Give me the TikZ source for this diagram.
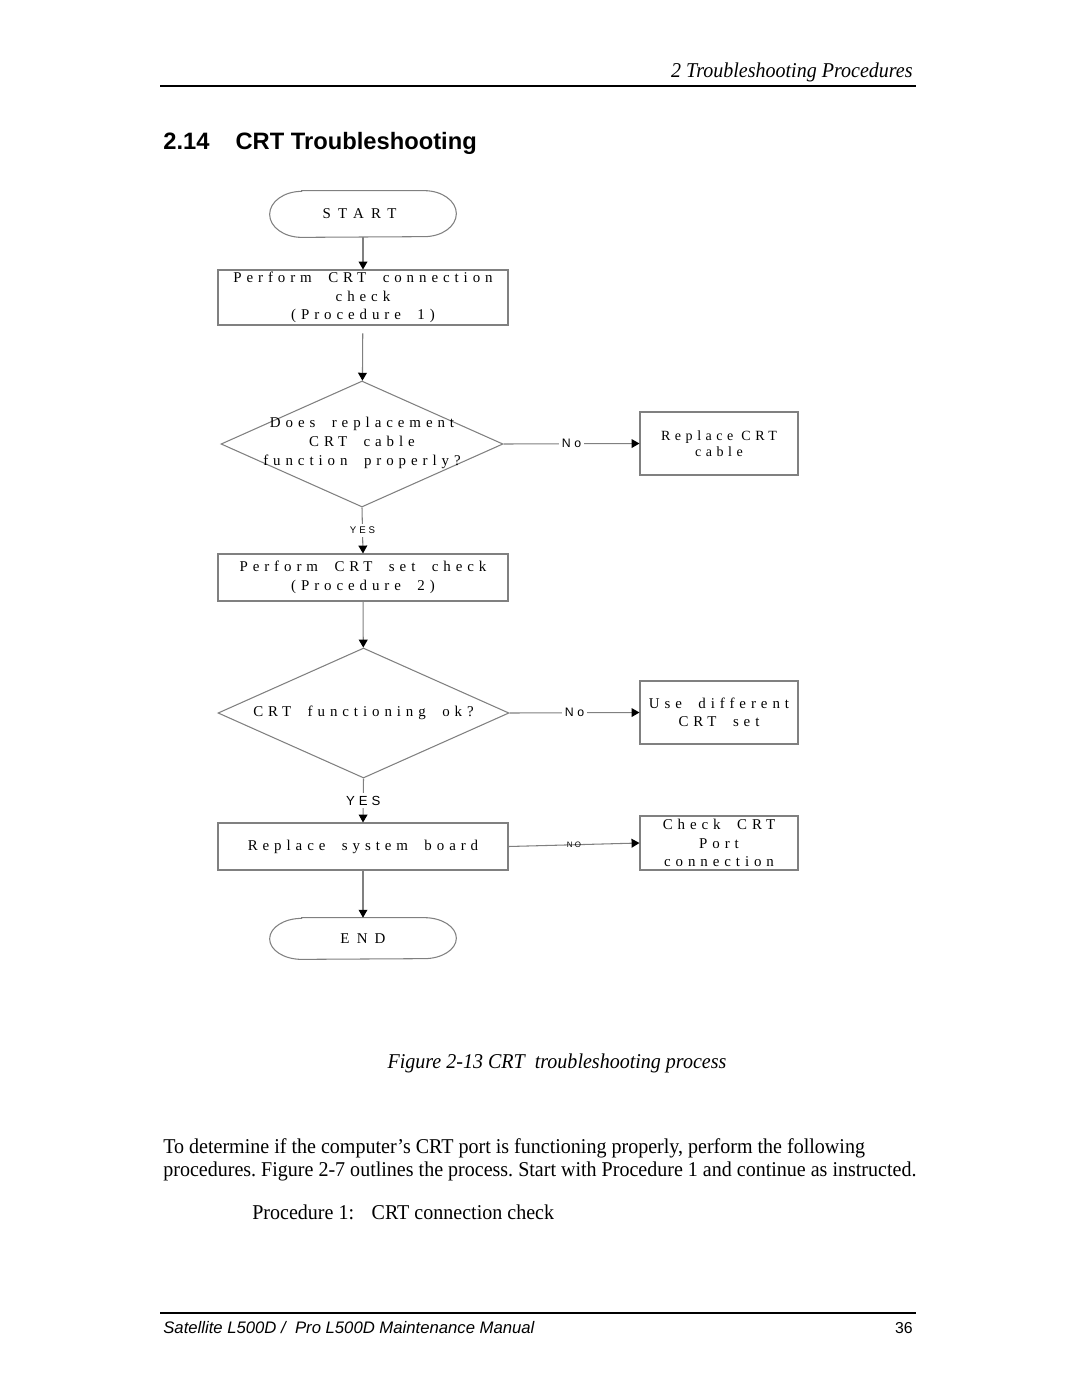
\documentclass[tikz,border=0pt]{standalone}
\usepackage{fontspec}
\setmainfont[FakeStretch=0.95]{Liberation Serif}
\setsansfont{Liberation Sans}
\newfontfamily\spc[LetterSpace=33,WordSpace=1.9]{Liberation Serif}
\newfontfamily\spcn[LetterSpace=32]{Liberation Serif}
\newfontfamily\spcw[LetterSpace=48]{Liberation Serif}
\newfontfamily\sspc[LetterSpace=30]{Liberation Sans}
\usetikzlibrary{shapes.geometric,arrows.meta}
\frenchspacing
\begin{document}
\begin{tikzpicture}[x=0.02cm,y=-0.02cm,
  sz/.style 2 args={minimum width=#1*0.02cm, minimum height=#2*0.02cm},
  fbox/.style={draw=gray, line width=0.6pt, inner sep=0pt, align=center,
    font=\fontsize{8.5}{10.5}\spc},
  dshape/.style={diamond, draw=gray, line width=0.6pt, inner sep=0pt},
  dtext/.style={inner sep=0pt, align=center, font=\fontsize{8.5}{10.8}\spc},
  term/.style={inner sep=0pt, font=\fontsize{8.5}{10.5}\spcw},
  conn/.style={draw=gray, line width=0.6pt, -{Triangle[length=4.5pt,width=5pt,color=black]}},
  lbl/.style={fill=white, inner sep=1.5pt, font=\fontsize{7}{8}\sspc},
  plain/.style={inner sep=0pt}
]
\useasboundingbox (0,0) rectangle (1080,1397);
\fill[white] (0,0) rectangle (1080,1397);

% header
\draw[line width=1.6pt] (160,86) -- (916,86);
\node[plain, anchor=base east, font=\fontsize{12}{14}\selectfont\itshape] (hdr) at (913,77) {2 Troubleshooting Procedures};
\node[plain, anchor=base west, font=\fontsize{13.5}{16}\sffamily\bfseries] (ttl) at (163,149.5) {2.14\hspace{1.1em}CRT Troubleshooting};

% terminals
\node[term, sz={186}{46}] (start) at (363,214) {\hspace{-4pt}START};
\draw[draw=gray, line width=0.6pt] ([xshift=0.64cm]start.north west) -- ([xshift=-0.64cm]start.north east)
  arc[start angle=90, end angle=-90, x radius=0.64cm, y radius=0.46cm]
  -- ([xshift=0.64cm]start.south west)
  arc[start angle=270, end angle=90, x radius=0.64cm, y radius=0.46cm] -- cycle;

\node[term, sz={186}{41}] (end) at (363,938.5) {END};
\draw[draw=gray, line width=0.6pt] ([xshift=0.64cm]end.north west) -- ([xshift=-0.64cm]end.north east)
  arc[start angle=90, end angle=-90, x radius=0.64cm, y radius=0.41cm]
  -- ([xshift=0.64cm]end.south west)
  arc[start angle=270, end angle=90, x radius=0.64cm, y radius=0.41cm] -- cycle;

% boxes
\node[fbox, sz={290}{55}] (box1) at (363,297.5) {Perform CRT connection\\check\\(Procedure 1)};
\node[dshape, sz={282}{126}] (d1) at (362,444) {};
\node[dtext] (d1t) at (362,443) {Does replacement\\CRT cable\\function properly?};
\node[fbox, sz={158}{63}, font=\fontsize{8}{9}\spcn] (rcab) at (719,443.5) {Replace CRT\\cable};

\node[fbox, sz={290}{47}] (box2) at (363,577.5) {Perform CRT set check\\(Procedure 2)};
\node[dshape, sz={291}{130}] (d2) at (363.5,713) {};
\node[dtext] (d2t) at (363.5,713) {CRT functioning ok?};
\node[fbox, sz={158}{63}] (use) at (719,712.5) {Use different\\CRT set};

\node[fbox, sz={290}{47}] (box3) at (363,846.5) {Replace system board};
\node[fbox, sz={158}{54}] (chk) at (719,843) {Check CRT\\Port\\connection};

% connectors
\draw[conn] (start) -- (box1);
\draw[conn, shorten <=4.5pt] (box1) -- (d1);
\draw[conn] (d1.east) -- node[lbl] (no1) {No} (rcab.west);
\draw[conn] (d1.south) -- node[lbl, font=\fontsize{5.5}{6}\sspc] (yes1) {YES} (box2.north);
\draw[conn] (box2) -- (d2);
\draw[conn] (d2.east) -- node[lbl] (no2) {No} (use.west);
\draw[conn] (d2.south) -- node[lbl, font=\fontsize{7.5}{8}\sspc] (yes2) {YES} (box3.north);
\draw[conn] (box3.east) -- node[plain, font=\fontsize{4.5}{5}\sspc] (no3) {NO} (chk.west);
\draw[conn] (box3) -- (end);

% caption and body
\node[plain, anchor=base, font=\fontsize{12}{14}\selectfont\itshape] (cap) at (557,1068) {Figure 2-13 CRT\ \ troubleshooting process};
\node[plain, anchor=base west, font=\fontsize{12}{14}\selectfont] (p1) at (163,1153) {To determine if the computer’s CRT port is functioning properly, perform the following};
\node[plain, anchor=base west, font=\fontsize{12}{14}\selectfont] (p2) at (163,1176) {procedures. Figure 2-7 outlines the process. Start with Procedure 1 and continue as instructed.};
\node[plain, anchor=base west, font=\fontsize{12}{14}\selectfont] (p3) at (252,1219) {Procedure 1:\hspace{10pt}CRT connection check};

% footer
\draw[line width=1.1pt] (160,1313) -- (916,1313);
\node[plain, anchor=base west, font=\fontsize{9.5}{11}\sffamily\itshape] (ft) at (163,1333) {Satellite L500D /\ \ Pro L500D Maintenance Manual};
\node[plain, anchor=base east, font=\fontsize{9}{11}\sffamily] (pg) at (913,1333) {36};
\end{tikzpicture}
\end{document}
